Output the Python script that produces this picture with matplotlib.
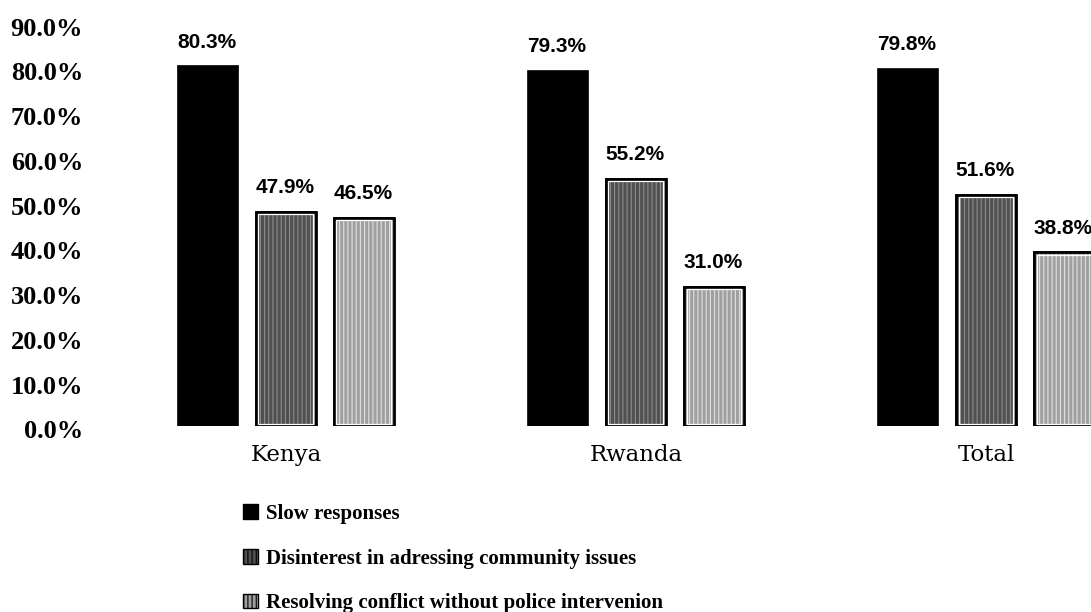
import numpy as np
import matplotlib.pyplot as plt
from matplotlib.patches import Patch
from matplotlib.transforms import ScaledTranslation

# Data
groups = ['Kenya', 'Rwanda', 'Total']
series = ['Slow responses',
          'Disinterest in adressing community issues',
          'Resolving conflict without police intervenion']
slow = [80.3, 79.3, 79.8]
disinterest = [47.9, 55.2, 51.6]
resolving = [46.5, 31.0, 38.8]
yticks = [0, 10, 20, 30, 40, 50, 60, 70, 80, 90]

values = [slow, disinterest, resolving]
faces = ['#000000', '#505050', '#a0a0a0']
hatches = [None, '||||', '||||']
hatch_cols = [None, '#8c8c8c', '#e0e0e0']

plt.rcParams['hatch.linewidth'] = 0.8

fig = plt.figure(figsize=(10.91, 6.12), dpi=100)
ax = fig.add_axes([120 / 1091, 1 - 426 / 612, 1 - 120 / 1091, (426 - 23) / 612])

x = np.arange(len(groups))
step = 0.223
width = 0.171

handles = []
for i, vals in enumerate(values):
    pos = x + (i - 1) * step
    ax.bar(pos, vals, width, color=faces[i], edgecolor='#000000', linewidth=1.2, zorder=2)
    if hatches[i]:
        ax.bar(pos, vals, width, fill=False, hatch=hatches[i],
               edgecolor=hatch_cols[i], linewidth=0, zorder=3)
        ax.bar(pos, vals, width, fill=False, edgecolor='#000000', linewidth=2.0, zorder=4)
        # thin white inner border like the scanned original
        ax.bar(pos, [v - 1.0 for v in vals], width - 0.014, bottom=0.5, fill=False,
               edgecolor='white', linewidth=0.9, zorder=5)
    for px, v in zip(pos, vals):
        ax.annotate(f'{v:.1f}%', (px, v), xytext=(-0.8, 13.5), textcoords='offset points',
                    ha='center', va='baseline', fontsize=15, fontweight='bold',
                    family='Liberation Sans', annotation_clip=False)
    handles.append(Patch(facecolor=faces[i], edgecolor='#000000',
                         hatch=hatches[i], linewidth=1.0))

ax.set_xlim(-0.474, 2.3)
ax.set_ylim(0, 90)
ax.set_yticks(yticks)
ax.set_yticklabels([f'{t:.1f}%' for t in yticks], fontsize=19,
                   fontweight='bold', family='Liberation Serif')
ax.set_xticks(x)
ax.set_xticklabels(groups, fontsize=16.5, family='DejaVu Serif')
ax.tick_params(length=0, axis='y', pad=26.6)
ax.tick_params(length=0, axis='x', pad=13)
shift = ScaledTranslation(0, -3.5 / 100, fig.dpi_scale_trans)
for lab in ax.get_yticklabels():
    lab.set_transform(lab.get_transform() + shift)
for s in ax.spines.values():
    s.set_visible(False)

fig.legend(handles, series, loc='upper left', bbox_to_anchor=(243 / 1091, 1 - 504 / 612),
           frameon=False, borderpad=0, borderaxespad=0,
           handlelength=0.7, handleheight=0.7, handletextpad=0.38,
           labelspacing=1.18, prop={'family': 'Liberation Serif', 'weight': 'bold', 'size': 15})

fig.savefig('out.png', dpi=100)
